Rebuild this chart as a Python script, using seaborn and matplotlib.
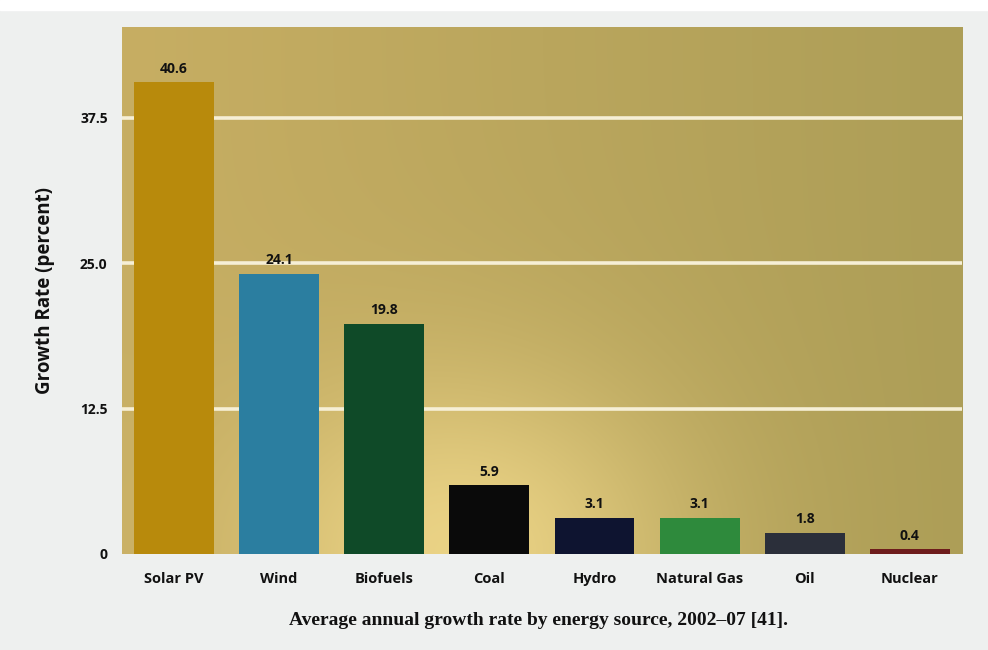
import numpy as np
import pandas as pd
import matplotlib
matplotlib.use("Agg")
import matplotlib.pyplot as plt
import seaborn as sns
from matplotlib.colors import to_rgb

# Average annual growth rate by energy source, 2002-07 (percent)
sources = ["Solar PV", "Wind", "Biofuels", "Coal", "Hydro", "Natural Gas", "Oil", "Nuclear"]
growth = [40.6, 24.1, 19.8, 5.9, 3.1, 3.1, 1.8, 0.4]
value_labels = ["40.6", "24.1", "19.8", "5.9", "3.1", "3.1", "1.8", "0.4"]
bar_colors = ["#b88a0c", "#2b7ea0", "#0f4a28", "#0a0a0a", "#0e1430",
              "#2e8a3c", "#2b2f3a", "#6e1c1c"]
y_ticks = [0, 12.5, 25.0, 37.5]
y_tick_labels = ["0", "12.5", "25.0", "37.5"]

df = pd.DataFrame({"source": sources, "growth": growth})

sns.set_theme(style="white")
plt.rcParams["font.family"] = ["Open Sans", "DejaVu Sans"]

fig = plt.figure(figsize=(9.88, 6.5), dpi=100, facecolor="#eef0ef")
fig.patches.append(plt.Rectangle((0, 0.985), 1, 0.015, transform=fig.transFigure,
                                 color="white", zorder=0))
ax = fig.add_axes([0.123, 0.148, 0.851, 0.81])

sns.barplot(data=df, x="source", y="growth", hue="source", palette=bar_colors,
            legend=False, width=0.76, saturation=1, linewidth=0, ax=ax, zorder=3)

# warm panel with a soft glow toward the lower middle
ny, nx = 200, 400
xx, yy = np.meshgrid(np.linspace(0, 1, nx), np.linspace(0, 1, ny))
left_c = np.array(to_rgb("#c7ae63"))
right_c = np.array(to_rgb("#ad9e57"))
glow_c = np.array(to_rgb("#f2da8c"))
base = left_c[None, None, :] * (1 - xx[..., None]) + right_c[None, None, :] * xx[..., None]
g = np.exp(-(((xx - 0.40) / 0.26) ** 2 + ((yy - 0.0) / 0.34) ** 2))[..., None] * 0.85
img = base * (1 - g) + glow_c[None, None, :] * g
ax.imshow(img, origin="lower", extent=[0, 1, 0, 1], transform=ax.transAxes,
          aspect="auto", zorder=0, interpolation="bilinear")

for yv in y_ticks[1:]:
    ax.axhline(yv, color="#f6efd6", lw=2.6, zorder=1)

ax.set_xlim(-0.5, 7.5)
ax.set_ylim(0, 45.3)
for s in ax.spines.values():
    s.set_visible(False)

ax.set_yticks(y_ticks)
ax.set_yticklabels(y_tick_labels, fontsize=10, fontweight="bold", color="#111111")
ax.tick_params(axis="y", length=0, pad=10)
ax.tick_params(axis="x", length=0, pad=13)
for lab in ax.get_xticklabels():
    lab.set_fontsize(10.5)
    lab.set_fontweight("bold")
    lab.set_color("#111111")

for i, (v, t) in enumerate(zip(growth, value_labels)):
    ax.text(i, v + 0.55, t, ha="center", va="bottom", fontsize=10,
            fontweight="bold", color="#111111", zorder=4)

ax.set_xlabel("")
ax.set_ylabel("Growth Rate (percent)", fontsize=13.5, fontweight="bold",
              color="#111111", labelpad=18)

fig.text(0.545, 0.046, "Average annual growth rate by energy source, 2002–07 [41].",
         ha="center", va="center", fontsize=14, fontweight="bold",
         family=["Liberation Serif", "DejaVu Serif"], color="#111111")

fig.savefig("out.png", dpi=100, facecolor=fig.get_facecolor())
